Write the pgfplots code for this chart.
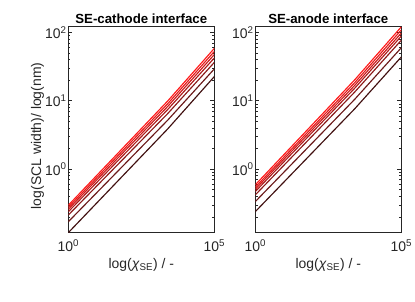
\documentclass[border=0pt]{standalone}
\usepackage{fontspec}
\setmainfont{Liberation Sans}
\usepackage{pgfplots}
\pgfplotsset{compat=1.18}
\definecolor{axgray}{rgb}{0.15,0.15,0.15}
\definecolor{c1}{rgb}{1.000,0.10,0.10}
\definecolor{c2}{rgb}{0.900,0.10,0.10}
\definecolor{c3}{rgb}{0.800,0.10,0.10}
\definecolor{c4}{rgb}{0.680,0.10,0.10}
\definecolor{c5}{rgb}{0.550,0.10,0.10}
\definecolor{c6}{rgb}{0.420,0.10,0.10}
\definecolor{c7}{rgb}{0.250,0.06,0.06}
\pgfplotsset{
  myax/.style={
    scale only axis, width=146bp, height=206bp,
    xmin=1, xmax=100000, ymin=0.1175, ymax=121,
    xtick={1,100000},
    xticklabels={10\textsuperscript{0},10\textsuperscript{5}},
    ytick={1,10,100},
    yticklabels={10\textsuperscript{0},10\textsuperscript{1},10\textsuperscript{2}},
    xminorticks=false,
    minor ytick={0.2,0.3,0.4,0.5,0.6,0.7,0.8,0.9,2,3,4,5,6,7,8,9,20,30,40,50,60,70,80,90},
    tick align=inside,
    major tick length=4bp, minor tick length=2.2bp,
    axis line style={line width=0.9bp, color=axgray},
    tick style={color=axgray, line width=0.6bp},
    tick label style={font=\fontsize{14}{14}\selectfont, color=axgray},
    xticklabel style={anchor=base, yshift=-19bp, inner sep=0pt},
    yticklabel style={inner sep=1.6bp},
    label style={font=\fontsize{14}{14}\selectfont, color=axgray},
    xlabel style={at={(axis description cs:0.5,0)}, anchor=base, yshift=-35.6bp, inner sep=0pt},
    title style={font=\bfseries\fontsize{13.3}{13.3}\selectfont, at={(axis description cs:0.5,1)}, anchor=base, yshift=-2.3bp, inner sep=0pt},
    xlabel={log(\textit{χ}\textsubscript{SE}) / -},
    every axis plot/.append style={line width=1.15bp},
  }
}
\begin{document}
\begin{tikzpicture}
\begin{loglogaxis}[myax, at={(68.3bp,-232.7bp)}, anchor=south west,
  title={SE-cathode interface},
  ylabel={log(SCL width)/ log(nm)},
  ylabel style={at={(axis description cs:-0.211,0.47)}, anchor=center}]
\addplot[c7] coordinates {(1,0.1175) (2512,3.854) (100000,22.54)};
\addplot[c6] coordinates {(1,0.1698) (2512,5.176) (100000,29.17)};
\addplot[c5] coordinates {(1,0.2128) (2512,6.457) (100000,36.31)};
\addplot[c4] coordinates {(1,0.2382) (2512,7.409) (100000,42.17)};
\addplot[c3] coordinates {(1,0.2582) (2512,8.215) (100000,47.32)};
\addplot[c2] coordinates {(1,0.2761) (2512,9.000) (100000,52.48)};
\addplot[c1] coordinates {(1,0.2958) (2512,9.868) (100000,58.21)};
\end{loglogaxis}
\begin{loglogaxis}[myax, at={(255.3bp,-232.7bp)}, anchor=south west,
  title={SE-anode interface}]
\addplot[c7] coordinates {(1,0.2388) (2512,7.586) (100000,43.65)};
\addplot[c6] coordinates {(1,0.3350) (2512,10.45) (100000,59.57)};
\addplot[c5] coordinates {(1,0.4198) (2512,13.34) (100000,76.74)};
\addplot[c4] coordinates {(1,0.4699) (2512,15.18) (100000,88.10)};
\addplot[c3] coordinates {(1,0.5082) (2512,16.70) (100000,97.72)};
\addplot[c2] coordinates {(1,0.5433) (2512,18.29) (100000,108.4)};
\addplot[c1] coordinates {(1,0.5888) (2512,20.13) (100000,120.2)};
\end{loglogaxis}
\pgfresetboundingbox
\path[use as bounding box] (0bp,0bp) rectangle (415bp,-302bp);
\end{tikzpicture}
\end{document}
